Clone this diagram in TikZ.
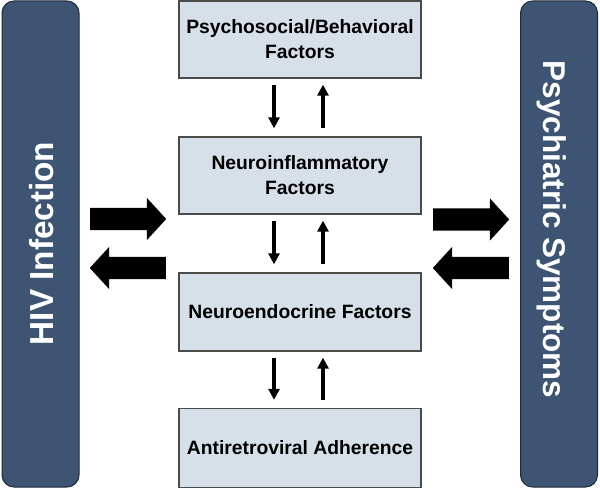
\documentclass[tikz,border=0pt]{standalone}
\usepackage{fontspec}
\setmainfont{Liberation Sans}
\usetikzlibrary{arrows.meta,shapes.arrows}
\definecolor{barblue}{HTML}{3D5573}
\definecolor{barline}{HTML}{1E2A38}
\definecolor{boxfill}{HTML}{D7DFE9}
\definecolor{boxline}{HTML}{4A4A4A}
\tikzset{
  sidebar/.style={draw=barline, line width=1pt, fill=barblue, rounded corners=12pt,
    minimum width=77pt, minimum height=486pt, inner sep=0pt},
  sidetext/.style={text=white, inner sep=0pt},
  factorbox/.style={draw=boxline, line width=1.3pt, fill=boxfill, minimum width=242pt,
    inner sep=0pt, align=center, font=\bfseries\fontsize{19.3}{25}\selectfont},
  smallarrow/.style={line width=3.3pt, -{Triangle[width=11pt,length=11pt]}},
  bigarrow/.style={single arrow, fill=black, draw=none, minimum height=76pt,
    inner xsep=0pt, inner ysep=11pt, text width=0pt, anchor=tail,
    single arrow head extend=10pt, single arrow head indent=0pt, single arrow tip angle=95}
}
\begin{document}
\begin{tikzpicture}[x=1pt,y=-1pt]
\useasboundingbox (0,0) rectangle (600,489);
% side bars
\node[sidebar] (hiv) at (40.5,244) {};
\node[sidebar] (psy) at (559,244) {};
\node[sidetext, rotate=90, font=\bfseries\fontsize{33.3}{36}\selectfont] (hivt) at (42,243.5) {HIV Infection};
\node[sidetext, rotate=-90, font=\bfseries\fontsize{31.5}{36}\selectfont] (psyt) at (552,229.5) {Psychiatric Symptoms};
% centre boxes
\node[factorbox, minimum height=77pt] (b1) at (300,39.5) {Psychosocial/Behavioral\\Factors};
\node[factorbox, minimum height=77pt] (b2) at (300,175.5) {Neuroinflammatory\\Factors};
\node[factorbox, minimum height=78pt] (b3) at (300,312) {Neuroendocrine Factors};
\node[factorbox, minimum height=79pt] (b4) at (300,448) {Antiretroviral Adherence};
% small arrows
\foreach \u/\l in {b1/b2, b2/b3, b3/b4}{
  \draw[smallarrow] ([xshift=-26pt,yshift=-6pt]\u.south) -- ([xshift=-26pt,yshift=8pt]\l.north);
  \draw[smallarrow] ([xshift=23pt,yshift=8pt]\l.north) -- ([xshift=23pt,yshift=-6pt]\u.south);
}
% big arrows
\node[bigarrow] (ar1) at (90,219) {};
\node[bigarrow, shape border rotate=180] (al1) at (166,268) {};
\node[bigarrow] (ar2) at (433,219.5) {};
\node[bigarrow, shape border rotate=180] (al2) at (509,268) {};
\end{tikzpicture}
\end{document}
